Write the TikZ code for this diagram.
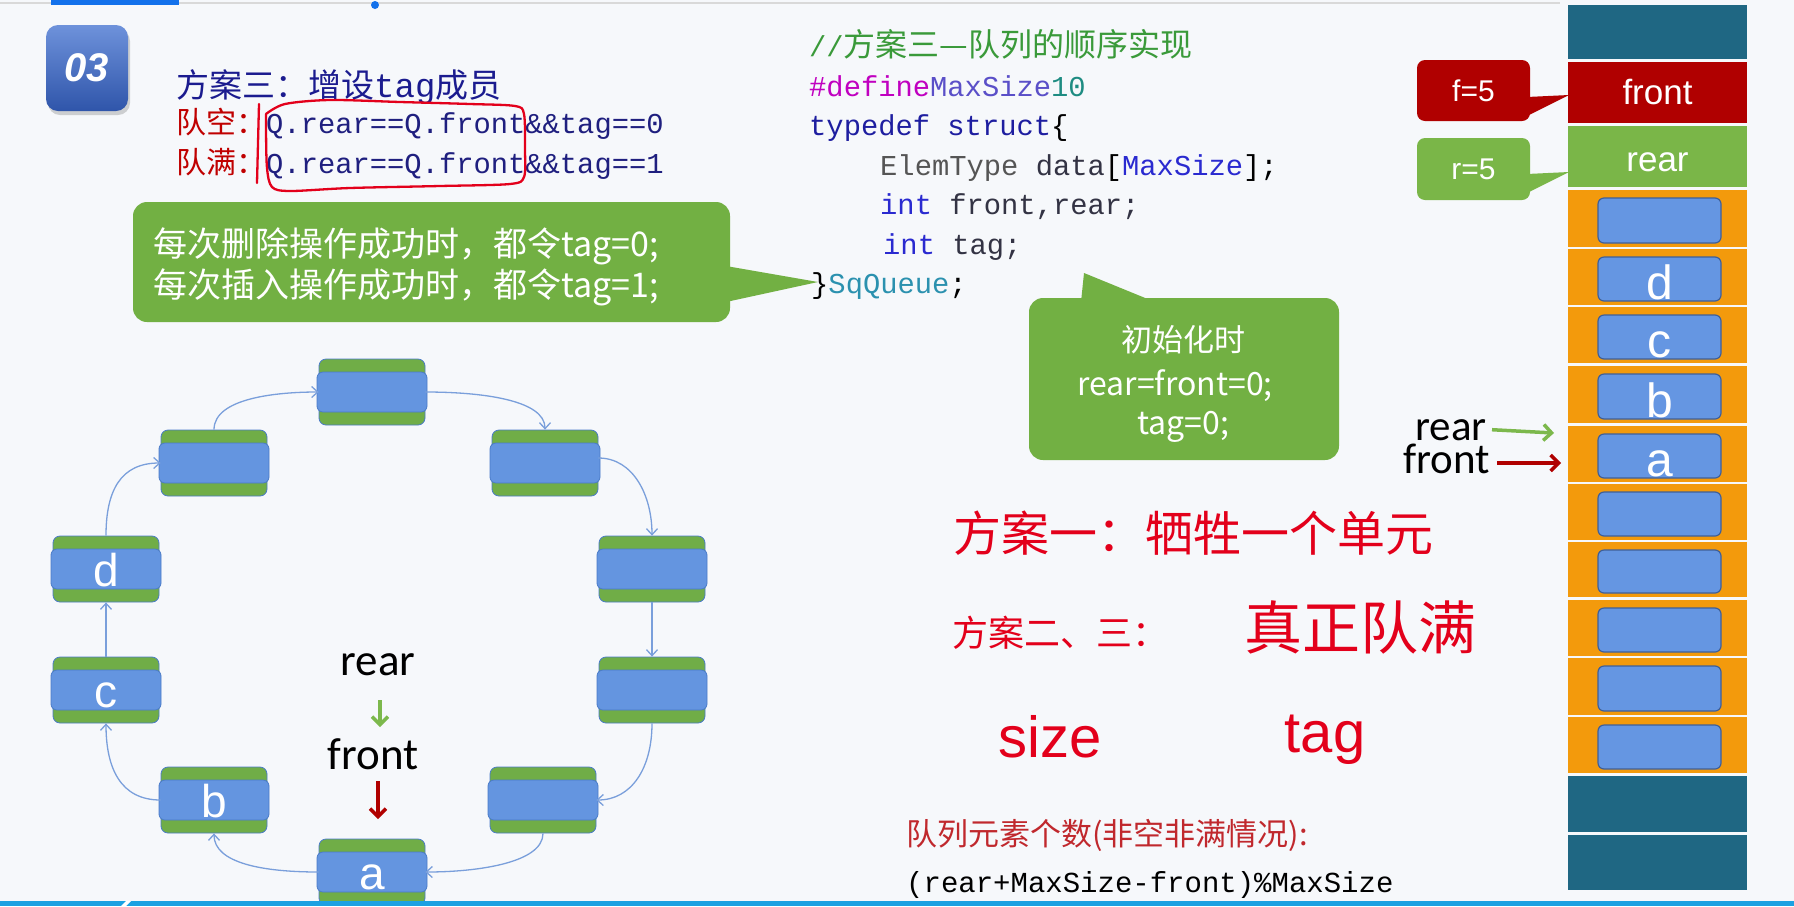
\documentclass[tikz,border=0pt]{standalone}
\usepackage{fontspec}
\setmainfont{Liberation Sans}
\newfontfamily\cjkfont{Noto Sans CJK SC}
\newfontfamily\codefont{Liberation Mono}
\newfontfamily\calfont{Carlito}
\usetikzlibrary{arrows.meta,calc,shadows}
\newcommand\fsz[1]{\fontsize{#1}{#1}\selectfont}
\definecolor{bgc}{HTML}{F6F8FB}
\definecolor{stteal}{HTML}{1F6783}
\definecolor{stred}{HTML}{B00000}
\definecolor{stgreen}{HTML}{7AB648}
\definecolor{storange}{HTML}{F39A0C}
\definecolor{cellblue}{HTML}{6596E2}
\definecolor{cellbd}{HTML}{3F5F98}
\definecolor{ringgreen}{HTML}{70AD47}
\definecolor{ringblue}{HTML}{6495E0}
\definecolor{ringbd}{HTML}{4A7BC8}
\definecolor{arrowblue}{HTML}{7A9FDB}
\definecolor{callgreen}{HTML}{72B043}
\definecolor{titleblue}{HTML}{1B1B8F}
\definecolor{rowred}{HTML}{C00000}
\definecolor{codenavy}{HTML}{1F1F7F}
\definecolor{cmtgreen}{HTML}{3A9A3A}
\definecolor{defmag}{HTML}{C000C0}
\definecolor{defviol}{HTML}{5A4FC8}
\definecolor{numteal}{HTML}{1E8C82}
\definecolor{kwblue}{HTML}{1E1EA0}
\definecolor{kwblue2}{HTML}{2A2AD0}
\definecolor{graytxt}{HTML}{555555}
\definecolor{dktxt}{HTML}{333344}
\definecolor{sqteal}{HTML}{2B91AF}
\definecolor{handred}{HTML}{E3001B}
\definecolor{barblue}{HTML}{1BA1E2}
\definecolor{badgetop}{HTML}{6E92DB}
\definecolor{badgebot}{HTML}{2F55AA}
\definecolor{arrgreen}{HTML}{7CB84C}
\definecolor{botred}{HTML}{C0282D}
\newcommand\ringnode[3]{%
  \node[ringg] (#1) at (#2,#3) {};
  \node[ringb] (#1in) at (#2,#3) {};
}
\begin{document}
\begin{tikzpicture}[x=1pt,y=-1pt,
  cell/.style={minimum width=179pt, inner sep=0pt, outer sep=0pt, draw=none},
  cellin/.style={minimum width=123pt, inner sep=0pt, fill=cellblue, draw=cellbd, line width=1.2pt, rounded corners=6pt},
  cellletter/.style={anchor=base, inner sep=0pt, text=white, font=\fsz{48}},
  ringg/.style={fill=ringgreen, draw=ringbd, line width=0.8pt, rounded corners=7pt, minimum width=106pt, minimum height=66pt, inner sep=0pt},
  ringb/.style={fill=ringblue, draw=ringbd, line width=0.8pt, rounded corners=6pt, minimum width=110pt, minimum height=40pt, inner sep=0pt},
  ringl/.style={anchor=base, inner sep=0pt, text=white, font=\fsz{46}},
  ringarrow/.style={draw=arrowblue, line width=1.3pt, -{Straight Barb[length=6pt,width=11pt]}},
  garr/.style={draw=arrgreen, line width=3.5pt, -{Straight Barb[length=8pt,width=16pt]}},
  rarr/.style={draw=stred, line width=3.5pt, -{Straight Barb[length=8pt,width=16pt]}},
  callout/.style={fill=callgreen, rounded corners=14pt, inner sep=0pt},
  code/.style={anchor=base west, inner sep=0pt, font=\codefont\fsz{28.8}},
  hand/.style={text=handred, inner sep=0pt},
  lab/.style={inner sep=0pt},
]
\useasboundingbox (0,0) rectangle (1794,906);
\fill[bgc] (0,0) rectangle (1794,906);
% top decoration
\draw[line width=1.5pt, black!15] (0,3) -- (1560,3);
\fill[barblue!70!blue] (51,0) rectangle (179,5);
\fill[barblue!70!blue] (375,5) circle (4);
% badge
\node[minimum width=82pt, minimum height=86pt, rounded corners=12pt, top color=badgetop, bottom color=badgebot,
  drop shadow={opacity=0.35, shadow xshift=2pt, shadow yshift=-4pt}, text=white, inner sep=0pt,
  font=\fsz{40}\bfseries\itshape] (badge) at (87,68) {03};
% title and conditions
\node[anchor=base west, lab, text=titleblue] (title) at (176,97)
  {{\cjkfont\fsz{33}方案三：增设}{\codefont\fsz{34}tag}{\cjkfont\fsz{33}成员}};
\node[anchor=base west, lab] (row1) at (176,133)
  {{\cjkfont\fsz{30}\color{rowred}队空：}{\codefont\fsz{28.8}\color{codenavy}Q.rear==Q.front\&\&tag==0}};
\node[anchor=base west, lab] (row2) at (176,173)
  {{\cjkfont\fsz{30}\color{rowred}队满：}{\codefont\fsz{28.8}\color{codenavy}Q.rear==Q.front\&\&tag==1}};
% hand-drawn red box
\draw[handred, line width=2.3pt, line cap=round] (259,104) -- (257,183);
\draw[handred, line width=2.3pt, line cap=round, smooth] plot coordinates {(266,114) (285,104) (330,100) (400,102) (470,104) (515,106) (524,114) (525,150) (524,177) (510,184) (440,186) (350,188) (290,191) (272,187) (267,168) (266,130) (266,114)};
% callout 1
\node[callout, minimum width=597pt, minimum height=120pt] (cb1) at (431.5,262) {};
\coordinate (tip1) at (818,282);
\fill[callgreen] (726,266) -- (tip1) -- (726,302) -- cycle;
\node[anchor=base west, lab, text=white, font=\cjkfont\fsz{34}] (c1a) at (153,256) {每次删除操作成功时，都令tag=0;};
\node[anchor=base west, lab, text=white, font=\cjkfont\fsz{34}] (c1b) at (153,297) {每次插入操作成功时，都令tag=1;};
% code
\node[code] (l1) at (809,56.5) {\color{cmtgreen}//{\cjkfont\fsz{32}方案三—队列的顺序实现}};
\node[code] (l2) at (809,96) {{\color{defmag}\#define}{\color{defviol}MaxSize}{\color{numteal}10}};
\node[code] (l3) at (809,135.5) {{\color{kwblue}typedef struct}\{};
\node[code] (l4) at (880,175) {{\color{graytxt}ElemType} {\color{dktxt}data}[{\color{kwblue2}MaxSize}];};
\node[code] (l5) at (880,214.5) {{\color{kwblue2}int} {\color{dktxt}front,rear;}};
\node[code] (l6) at (883,254) {{\color{kwblue2}int} {\color{dktxt}tag;}};
\node[code] (l7) at (811,293.5) {\}{\color{sqteal}SqQueue};};
% callout 2
\node[callout, minimum width=310pt, minimum height=162pt] (cb2) at (1184,379) {};
\coordinate (tip2) at (1084,273);
\fill[callgreen] (1081,302) -- (tip2) -- (1155,302) -- cycle;
\node[anchor=base, lab, text=white, font=\cjkfont\fsz{31}] (c2a) at (1183,351) {初始化时};
\node[anchor=base, lab, text=white, font=\cjkfont\fsz{32}] (c2b) at (1175,395) {rear=front=0;};
\node[anchor=base, lab, text=white, font=\cjkfont\fsz{32}] (c2c) at (1183,434) {tag=0;};
% handwriting
\node[hand, font=\cjkfont\fsz{48}] (h1) at (1193,533) {方案一：牺牲一个单元};
\node[hand, font=\cjkfont\fsz{36}] (h2) at (1060,633) {方案二、三：};
\node[hand, font=\cjkfont\fsz{58}] (h3) at (1360,627) {真正队满};
\node[hand, anchor=base, font=\fsz{58}] (h4) at (1050,757) {size};
\node[hand, anchor=base, font=\fsz{58}] (h5) at (1325,752) {tag};
% bottom formula
\node[anchor=base west, lab, text=botred, font=\cjkfont\fsz{31}] (f1) at (906,845) {队列元素个数(非空非满情况):};
\node[code, text=black, font=\codefont\fsz{29}] (f2) at (906,892) {(rear+MaxSize-front)\%MaxSize};
% ring
\ringnode{T}{372}{392}
\ringnode{UR}{545}{463}
\ringnode{RU}{652}{569}
\ringnode{RL}{652}{690}
\ringnode{LR}{543}{800}
\ringnode{A}{372}{872}
\ringnode{B}{214}{800}
\ringnode{C}{106}{690}
\ringnode{D}{106}{569}
\ringnode{UL}{214}{463}
\node[ringl] (Atxt) at ([yshift=3pt]Ain.south) {a};
\node[ringl] (Btxt) at ([yshift=3pt]Bin.south) {b};
\node[ringl] (Ctxt) at ([yshift=3pt]Cin.south) {c};
\node[ringl] (Dtxt) at ([yshift=3pt]Din.south) {d};
\draw[ringarrow] (UL.north) .. controls +(0,-32) and +(-40,0) .. (T.west);
\draw[ringarrow] (T.east) .. controls +(55,0) and +(0,-30) .. (UR.north);
\draw[ringarrow] ([yshift=5pt]UR.east) .. controls +(35,0) and +(0,-40) .. (RU.north);
\draw[ringarrow] (RU.south) -- (RL.north);
\draw[ringarrow] (RL.south) .. controls +(0,45) and +(35,0) .. (LR.east);
\draw[ringarrow] (LR.south) .. controls +(0,30) and +(50,0) .. (A.east);
\draw[ringarrow] (A.west) .. controls +(-55,0) and +(0,30) .. (B.south);
\draw[ringarrow] (B.west) .. controls +(-40,0) and +(0,45) .. (C.south);
\draw[ringarrow] (C.north) -- (D.south);
\draw[ringarrow] (D.north) .. controls +(0,-45) and +(-40,0) .. (UL.west);
\node[lab, anchor=base, font=\calfont\fsz{45}] (rr) at (378,675) {rear};
\node[lab, anchor=base, font=\calfont\fsz{45}] (rf) at (373,769) {front};
\coordinate (g1) at (380,700); \coordinate (g2) at (380,727);
\coordinate (r1) at (378,781); \coordinate (r2) at (378,819);
\draw[garr] (g1) -- (g2);
\draw[rarr] (r1) -- (r2);
% stack
\foreach \i/\tp/\bt/\col in {0/5/59/stteal, 1/62/123/stred, 2/126/187/stgreen, 3/190/247/storange,
  4/249/305/storange, 5/307/363/storange, 6/366/423/storange, 7/426/482/storange, 8/484/540/storange,
  9/542/597/storange, 10/600/656/storange, 11/658/715/storange, 12/717/773/storange,
  13/776/832/stteal, 14/835/890/stteal}{
  \pgfmathsetmacro\hh{\bt-\tp}
  \pgfmathsetmacro\mm{(\tp+\bt)/2}
  \node[cell, fill=\col, minimum height=\hh pt] (s\i) at (1657.5,\mm) {};
  \ifnum\i>2 \ifnum\i<13
    \pgfmathsetmacro\hi{\bt-\tp-12}
    \pgfmathsetmacro\mi{(\tp+\bt+4)/2}
    \node[cellin, minimum height=\hi pt] (b\i) at (1659.5,\mi) {};
  \fi\fi
}
\node[cellletter] (sd) at ([yshift=2pt]b4.south) {d};
\node[cellletter] (sc) at ([yshift=2pt]b5.south) {c};
\node[cellletter] (sb) at ([yshift=2pt]b6.south) {b};
\node[cellletter] (sa) at ([yshift=2pt]b7.south) {a};
\node[lab, text=white, font=\fsz{35}] (tfront) at (s1) {front};
\node[lab, anchor=base, text=white, font=\fsz{35}] (trear) at (1657.5,171) {rear};
% f=5 / r=5 callouts
\node[minimum width=113pt, minimum height=61pt, fill=stred, rounded corners=8pt, inner sep=0pt, text=white, font=\fsz{30}] (f5) at (1473.5,90.5) {f=5};
\coordinate (ft) at (1569,95);
\fill[stred] (1527,97) -- (ft) -- (1527,116) -- cycle;
\node[minimum width=113pt, minimum height=62pt, fill=stgreen, rounded corners=8pt, inner sep=0pt, text=white, font=\fsz{30}] (r5) at (1473.5,169) {r=5};
\coordinate (rt) at (1569,172);
\fill[stgreen] (1527,174) -- (rt) -- (1527,193) -- cycle;
% rear/front pointers at stack
\node[lab, anchor=base east, font=\calfont\fsz{43}] (lrear) at (1487,440) {rear};
\node[lab, anchor=base east, font=\calfont\fsz{43}] (lfront) at (1490,473) {front};
\coordinate (rtip) at (1554,433);
\coordinate (ftip) at (1561,463);
\draw[garr] ([xshift=5pt]lrear.east) -- (rtip);
\draw[rarr] ([xshift=7pt,yshift=10pt]lfront.base east) -- (ftip);
% bottom bar
\fill[barblue] (0,901) rectangle (1794,906);
\fill[white] (121,906) -- (126,901) -- (131,901) -- (126,906) -- cycle;
\end{tikzpicture}
\end{document}
